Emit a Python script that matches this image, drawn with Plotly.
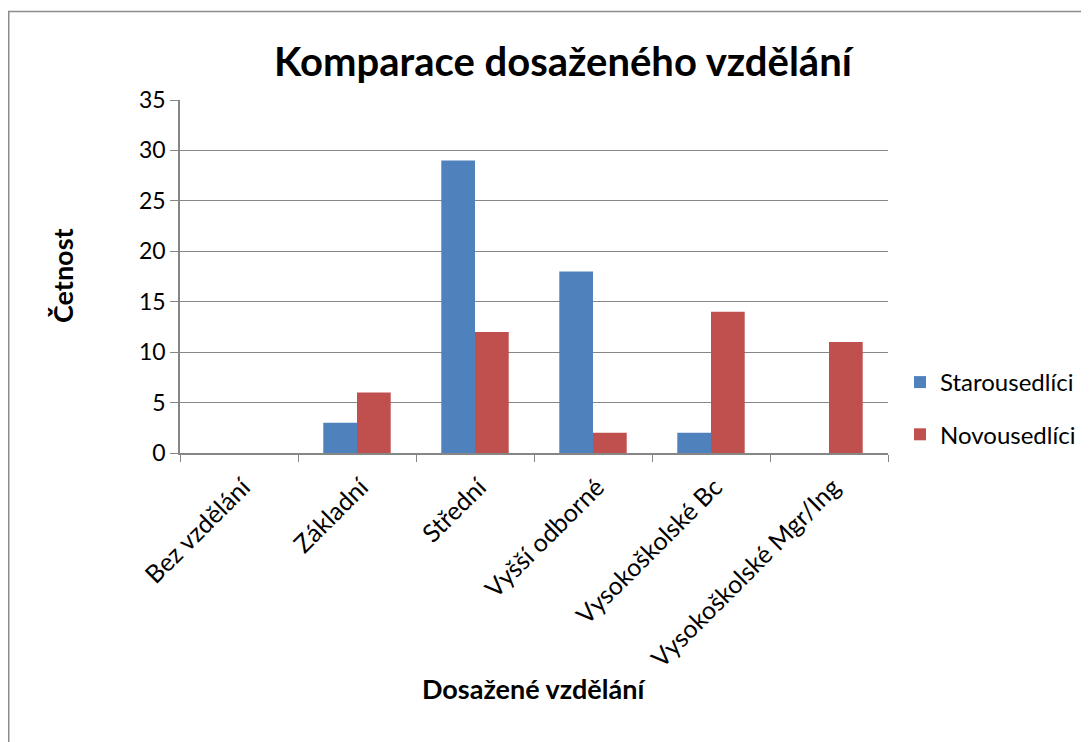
import plotly.graph_objects as go

categories = ["Bez vzdělání", "Základní", "Střední", "Vyšší odborné",
              "Vysokoškolské Bc", "Vysokoškolské Mgr/Ing"]
starousedlici = [0, 3, 29, 18, 2, 0]
novousedlici = [0, 6, 12, 2, 14, 11]
y_ticks = [0, 5, 10, 15, 20, 25, 30, 35]

# page body has an 8px margin; figure coordinates = screen - 8
OFF = 8
W, H = 1089 - OFF, 742 - OFF
L, R, T, B = 180 - OFF, 888 - OFF, 100 - OFF, 453 - OFF
pw, ph = R - L, B - T

FONT = "Lato, 'Open Sans', sans-serif"
GRID = "#868686"

fig = go.Figure()
fig.add_trace(go.Bar(name="Starousedlíci", x=categories, y=starousedlici,
                     legendgroup="s",
                     marker=dict(color="#4F81BD", line=dict(width=0))))
fig.add_trace(go.Bar(name="Novousedlíci", x=categories, y=novousedlici,
                     legendgroup="n",
                     marker=dict(color="#C0504D", line=dict(width=0))))


def px_x(p):  # screen px -> paper x
    return (p - OFF - L) / pw


def px_y(p):  # screen px -> paper y
    return (B - (p - OFF)) / ph


fig.update_layout(
    width=W, height=H,
    margin=dict(l=L, r=W - R, t=T, b=H - B, autoexpand=False),
    paper_bgcolor="white", plot_bgcolor="white",
    barmode="group", bargap=0.4286, bargroupgap=0,
    font=dict(family=FONT, size=22, color="black"),
    title=dict(text="<b>Komparace dosaženého vzdělání</b>",
               x=(563 - OFF) / W, xanchor="center",
               y=1 - (62 - OFF) / H, yanchor="middle",
               font=dict(size=40, family=FONT)),
    legend=dict(x=px_x(900), y=px_y(360), xanchor="left", yanchor="top",
                font=dict(size=24), itemwidth=30, tracegroupgap=18,
                bgcolor="rgba(0,0,0,0)"),
    xaxis=dict(
        type="category",
        tickangle=-45,
        ticks="outside", tickson="boundaries", ticklen=7, tickcolor=GRID,
        ticklabelstandoff=8, ticklabelshift=4,
        showline=True, linecolor=GRID, linewidth=1.5,
        showgrid=False,
        tickfont=dict(size=25),
    ),
    yaxis=dict(
        range=[0, 35], tickvals=y_ticks,
        ticks="outside", ticklen=8, tickcolor=GRID,
        showline=True, linecolor=GRID, linewidth=1.5,
        showgrid=True, gridcolor=GRID, gridwidth=1,
        zeroline=False,
        tickfont=dict(size=23),
    ),
    showlegend=True,
)

# axis titles
fig.add_annotation(text="<b>Dosažené vzdělání</b>", xref="paper", yref="paper",
                   x=px_x(534), y=px_y(688), xanchor="center", yanchor="middle",
                   showarrow=False, font=dict(size=27, family=FONT))
fig.add_annotation(text="<b>Četnost</b>", xref="paper", yref="paper",
                   x=px_x(62), y=px_y(276), xanchor="center", yanchor="middle",
                   textangle=-90, showarrow=False, font=dict(size=27, family=FONT))

# outer chart border
fig.add_shape(type="rect", xref="paper", yref="paper",
              x0=px_x(8.75), x1=px_x(1100), y0=px_y(760), y1=px_y(11.5),
              line=dict(color="#8C8C8C", width=1.5), fillcolor="rgba(0,0,0,0)",
              layer="below")

fig.write_html("out.html")
